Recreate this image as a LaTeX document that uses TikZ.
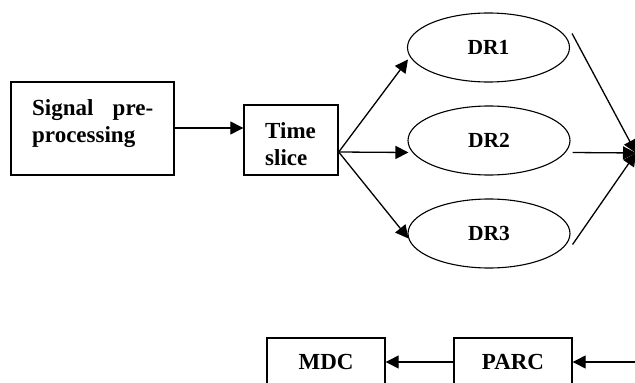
\documentclass[tikz,border=0pt]{standalone}
\usepackage{fontspec}
\setmainfont{Liberation Serif}
\usetikzlibrary{arrows.meta,shapes.geometric}
\tikzset{
  box/.style={draw,line width=1.4pt,rectangle,inner sep=0pt},
  blk/.style={inner sep=0pt,font=\fontsize{23}{27}\selectfont\bfseries},
  drnode/.style={draw,line width=1.1pt,ellipse,inner sep=0pt,minimum width=162pt,minimum height=69pt,font=\fontsize{21.5}{25}\selectfont\bfseries},
  arr/.style={line width=1.3pt,-{Triangle[length=13pt,width=13pt]}},
  ln/.style={line width=1.2pt}
}
\begin{document}
\begin{tikzpicture}[x=1pt,y=-1pt]
\useasboundingbox (0,0) rectangle (635,383);
\clip (0,0) rectangle (635,383);

% pre-processing block
\node[box,minimum width=163pt,minimum height=93pt] (sig) at (92.5,128.5) {};
\node[blk,anchor=base west,text width=121pt,align=left] (sigtxt) at (32,115)
  {Signal\hfill pre-\\processing};

% time slice block
\node[box,minimum width=94pt,minimum height=70pt] (ts) at (291,140) {};
\node[blk,anchor=base west,text width=60pt,align=left] (tstxt) at (265,138) {Time\\slice};

% decision ellipses
\node[drnode] (dr1) at (488.5,47.5) {DR1};
\node[drnode] (dr2) at (489,140.5) {DR2};
\node[drnode] (dr3) at (489,233.5) {DR3};

% bottom blocks (run past the lower edge)
\node[box,minimum width=118pt,minimum height=48pt] (mdc) at (326,362) {};
\node[blk] (mdctxt) at (326,362) {MDC};
\node[box,minimum width=118pt,minimum height=48pt] (parc) at (513,362) {};
\node[blk] (parctxt) at (513,362) {PARC};

% off-edge points
\coordinate (join) at (636,153);
\coordinate (inR) at (640,362);

% connectors
\draw[arr] (sig.east |- 0,128) -- (ts.west |- 0,128);
\draw[arr] ([yshift=-12pt]ts.east) -- ([xshift=1pt,yshift=-12pt]dr1.west);
\draw[arr] ([yshift=-12pt]ts.east) -- ([xshift=1pt,yshift=-12pt]dr2.west);
\draw[arr] ([yshift=-12pt]ts.east) -- ([xshift=1pt,yshift=-5pt]dr3.west);

\draw[arr] ([xshift=2pt,yshift=14pt]dr1.east) -- (join);
\draw[arr] ([xshift=2pt,yshift=-12pt]dr2.east) -- (join);
\draw[arr] ([xshift=2pt,yshift=-11pt]dr3.east) -- (join);

\draw[arr] (inR) -- (parc.east);
\draw[arr] (parc.west) -- (mdc.east);
\end{tikzpicture}
\end{document}
